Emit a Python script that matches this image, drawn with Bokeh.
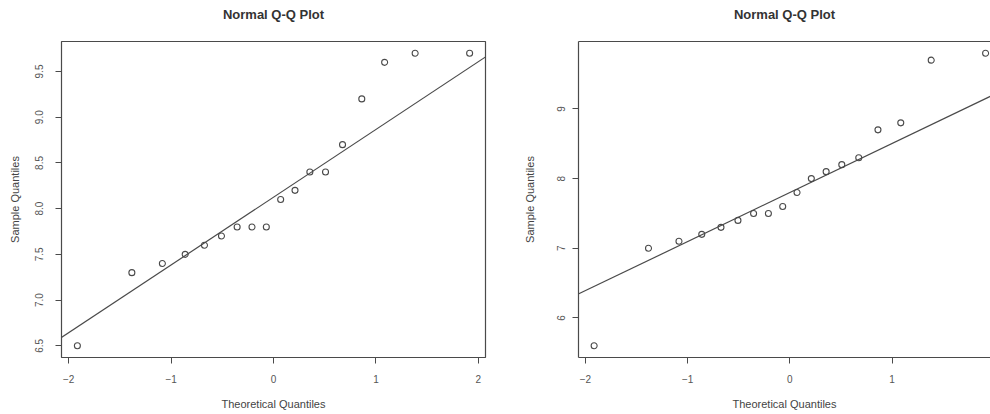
from bokeh.plotting import figure
from bokeh.layouts import row
from bokeh.models import Slope, LinearAxis, Range1d
from bokeh.embed import file_html
from bokeh.resources import INLINE

# ---- data ----
theoretical = [-1.915, -1.383, -1.085, -0.862, -0.674, -0.508, -0.355, -0.210, -0.070,
               0.070, 0.210, 0.355, 0.508, 0.674, 0.862, 1.085, 1.383, 1.915]
sample_left = [6.5, 7.3, 7.4, 7.5, 7.6, 7.7, 7.8, 7.8, 7.8,
               8.1, 8.2, 8.4, 8.4, 8.7, 9.2, 9.6, 9.7, 9.7]
sample_right = [5.6, 7.0, 7.1, 7.2, 7.3, 7.4, 7.5, 7.5, 7.6,
                7.8, 8.0, 8.1, 8.2, 8.3, 8.7, 8.8, 9.7, 9.8]
# Q-Q reference lines (intercept, slope)
qqline_left = (8.125, 0.741)
qqline_right = (7.80, 0.704)

x_ticks = [-2, -1, 0, 1, 2]
x_tick_labels = ["\u22122", "\u22121", "0", "1", "2"]
y_ticks_left = [6.5, 7.0, 7.5, 8.0, 8.5, 9.0, 9.5]
y_tick_labels_left = ["6.5", "7.0", "7.5", "8.0", "8.5", "9.0", "9.5"]
y_ticks_right = [6, 7, 8, 9]
y_tick_labels_right = ["6", "7", "8", "9"]

title_text = "Normal Q-Q Plot"
x_label = "Theoretical Quantiles"
y_label = "Sample Quantiles"

FONT = "Liberation Sans"
INK = "#4a4a4a"
TXT = "#444444"
H = 412


def style_axis(ax, ticks, labels, vertical=False, lab_standoff=12, axl_standoff=12):
    ax.ticker = ticks
    ax.major_label_overrides = {t: l for t, l in zip(ticks, labels)}
    ax.major_tick_out = 6
    ax.major_tick_in = 0
    ax.minor_tick_line_color = None
    ax.major_tick_line_color = INK
    ax.major_label_text_font = FONT
    ax.major_label_text_font_size = "10px"
    ax.major_label_text_color = "#555555"
    ax.axis_label_text_font = FONT
    ax.axis_label_text_font_size = "11px"
    ax.axis_label_text_font_style = "normal"
    ax.axis_label_text_color = TXT
    if vertical:
        ax.major_label_orientation = "vertical"
    ax.major_label_standoff = lab_standoff
    ax.axis_label_standoff = axl_standoff


def make(sample, qq, xr, yr, yticks, ylabels, width, mb_left, mb_right, full_box,
         ylab_standoff, yaxl_standoff):
    p = figure(width=width, height=H, output_backend="svg", toolbar_location=None,
               x_range=Range1d(*xr), y_range=Range1d(*yr),
               min_border_left=mb_left, min_border_right=mb_right,
               min_border_top=41, min_border_bottom=H - 358,
               title=title_text, x_axis_label=x_label, y_axis_label=y_label)
    p.grid.visible = False
    p.background_fill_color = "white"
    p.border_fill_color = "white"
    p.title.align = "center"
    p.title.text_font = FONT
    p.title.text_font_size = "13px"
    p.title.text_font_style = "bold"
    p.title.text_color = "#333333"
    p.title.standoff = 4
    style_axis(p.xaxis[0], x_ticks, x_tick_labels, lab_standoff=11, axl_standoff=12)
    style_axis(p.yaxis[0], yticks, ylabels, vertical=True,
               lab_standoff=ylab_standoff, axl_standoff=yaxl_standoff)
    # spacer along the top (also draws the top border line of the right panel)
    top = LinearAxis(ticker=[], major_tick_line_color=None, minor_tick_line_color=None,
                     major_tick_out=0, major_tick_in=0,
                     major_label_text_font_size="0px", major_label_standoff=0,
                     axis_label=" ", axis_label_text_font_size="11px",
                     axis_label_standoff=3,
                     axis_line_color=None if full_box else INK, axis_line_width=1.2)
    p.add_layout(top, "above")
    if full_box:
        p.outline_line_color = INK
        p.outline_line_width = 1.2
        p.xaxis.axis_line_color = None
        p.yaxis.axis_line_color = None
    else:
        p.outline_line_color = None
        p.xaxis.axis_line_color = INK
        p.yaxis.axis_line_color = INK
        p.xaxis.axis_line_width = 1.2
        p.yaxis.axis_line_width = 1.2
    p.add_layout(Slope(gradient=qq[1], y_intercept=qq[0], line_color=INK, line_width=1.2))
    p.scatter(theoretical, sample, marker="circle", size=6, fill_color=None,
              line_color=INK, line_width=1.1)
    return p


p1 = make(sample_left, qqline_left, (-2.07, 2.07), (6.372, 9.828),
          y_ticks_left, y_tick_labels_left, 520, 61, 35, True, 12, 12)
p2 = make(sample_right, qqline_right, (-2.068, 1.963), (5.432, 9.968),
          y_ticks_right, y_tick_labels_right, 470, 56, 0, False, 7, 19)

layout = row(p1, p2)
open("out.html", "w").write(file_html(layout, INLINE))
